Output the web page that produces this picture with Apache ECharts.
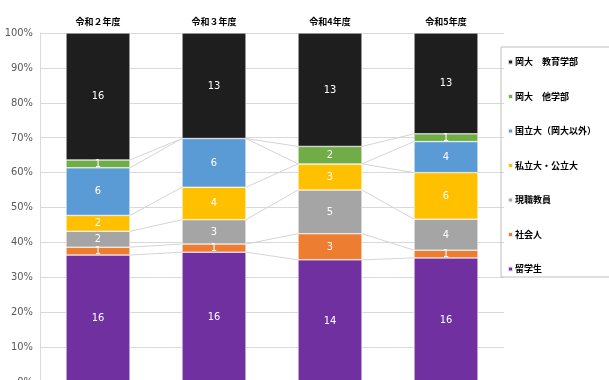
<!DOCTYPE html>
<html><head><meta charset="utf-8">
<script src="https://cdn.jsdelivr.net/npm/echarts@6/dist/echarts.min.js"></script>
<style>html,body{margin:0;padding:0;background:#fff}#c{width:609px;height:380px}</style>
</head><body><div id="c"></div>
<script>
const categories = ['令和２年度', '令和３年度', '令和4年度', '令和5年度'];
const seriesNames = ['留学生', '社会人', '現職教員', '私立大・公立大', '国立大（岡大以外）', '岡大　他学部', '岡大　教育学部'];
const ryugakusei = [16, 16, 14, 16];
const shakaijin = [1, 1, 3, 1];
const genshoku = [2, 3, 5, 4];
const shiritsu = [2, 4, 3, 6];
const kokuritsu = [6, 6, 0, 4];
const tagakubu = [1, 0, 2, 1];
const kyoiku = [16, 13, 13, 13];
const yTicks = [0, 10, 20, 30, 40, 50, 60, 70, 80, 90, 100];
const colors = ['#7030A0', '#ED7D31', '#A5A5A5', '#FFC000', '#5B9BD5', '#70AD47', '#141414'];

const raw = [ryugakusei, shakaijin, genshoku, shiritsu, kokuritsu, tagakubu, kyoiku];
const totals = categories.map((_, i) => raw.reduce((s, a) => s + a[i], 0));
const pct = raw.map(a => a.map((v, i) => v / totals[i] * 100));
const cum = raw.map((_, k) => categories.map((_, i) => {
  let s = 0; for (let j = 0; j <= k; j++) s += pct[j][i]; return s;
}));

const BAR_W = 64;
const barSeries = raw.map((arr, k) => ({
  name: seriesNames[k],
  type: 'bar',
  stack: 'all',
  barWidth: BAR_W,
  z: 3,
  data: arr.map((v, i) => ({ value: pct[k][i], raw: v })),
  itemStyle: {
    color: colors[k], borderColor: 'rgba(255,255,255,0.6)', borderWidth: 0.5,
    decal: k === 6
      ? { symbol: 'circle', symbolSize: 0.7, color: 'rgba(255,255,255,0.12)', dashArrayX: [2, 0], dashArrayY: [2, 0], rotation: 0 }
      : { symbol: 'none' }
  },
  label: {
    show: true, position: 'inside', color: '#fff', fontSize: 11,
    fontFamily: 'Liberation Sans Narrow, DejaVu Sans Condensed, sans-serif',
    formatter: p => p.data.raw > 0 ? String(p.data.raw) : ''
  },
  emphasis: { disabled: true }
}));

const connData = [];
for (let i = 0; i < categories.length - 1; i++) for (let k = 0; k < raw.length - 1; k++) connData.push([i, k]);

const connectors = {
  type: 'custom', name: 'conn', z: 1, silent: true,
  data: connData,
  encode: { x: 0 },
  itemStyle: { decal: { symbol: 'none' } },
  renderItem: (params, api) => {
    const i = api.value(0), k = api.value(1);
    const p1 = api.coord([categories[i], cum[k][i]]);
    const p2 = api.coord([categories[i + 1], cum[k][i + 1]]);
    return {
      type: 'line',
      shape: { x1: p1[0] + BAR_W / 2, y1: p1[1], x2: p2[0] - BAR_W / 2, y2: p2[1] },
      style: { stroke: '#d4d4d4', lineWidth: 1 }
    };
  }
};

const chart = echarts.init(document.getElementById('c'));
chart.setOption({
  animation: false,
  aria: { enabled: true, decal: { show: true } },
  grid: { left: 40, right: 105, top: 33, bottom: -2, outerBoundsMode: 'none', containLabel: false },
  xAxis: {
    type: 'category', data: categories, position: 'top',
    axisLine: { show: false }, axisTick: { show: false },
    axisLabel: { color: '#000', fontSize: 9, fontWeight: 'bold', margin: 7, fontFamily: 'Noto Sans CJK JP, sans-serif' }
  },
  yAxis: {
    type: 'value', min: 0, max: 100, interval: 10,
    axisLine: { show: true, lineStyle: { color: '#d9d9d9' } },
    axisTick: { show: false },
    splitLine: { lineStyle: { color: '#d9d9d9', width: 1 } },
    axisLabel: {
      color: '#595959', fontSize: 11, margin: 7,
      fontFamily: 'Liberation Sans Narrow, DejaVu Sans Condensed, sans-serif',
      formatter: v => yTicks.includes(v) ? v + '%' : ''
    }
  },
  legend: {
    orient: 'vertical', left: 501, top: 47,
    data: seriesNames.slice().reverse(),
    itemWidth: 5, itemHeight: 5, itemGap: 22.5,
    padding: [9, 40, 2, 6],
    borderColor: '#bfbfbf', borderWidth: 1,
    icon: 'rect',
    selectedMode: false,
    textStyle: { color: '#000', fontSize: 9, fontWeight: 'bold', lineHeight: 12, padding: [0, 0, 0, -3], fontFamily: 'Noto Sans CJK JP, sans-serif' }
  },
  series: [connectors, ...barSeries]
});
</script></body></html>
